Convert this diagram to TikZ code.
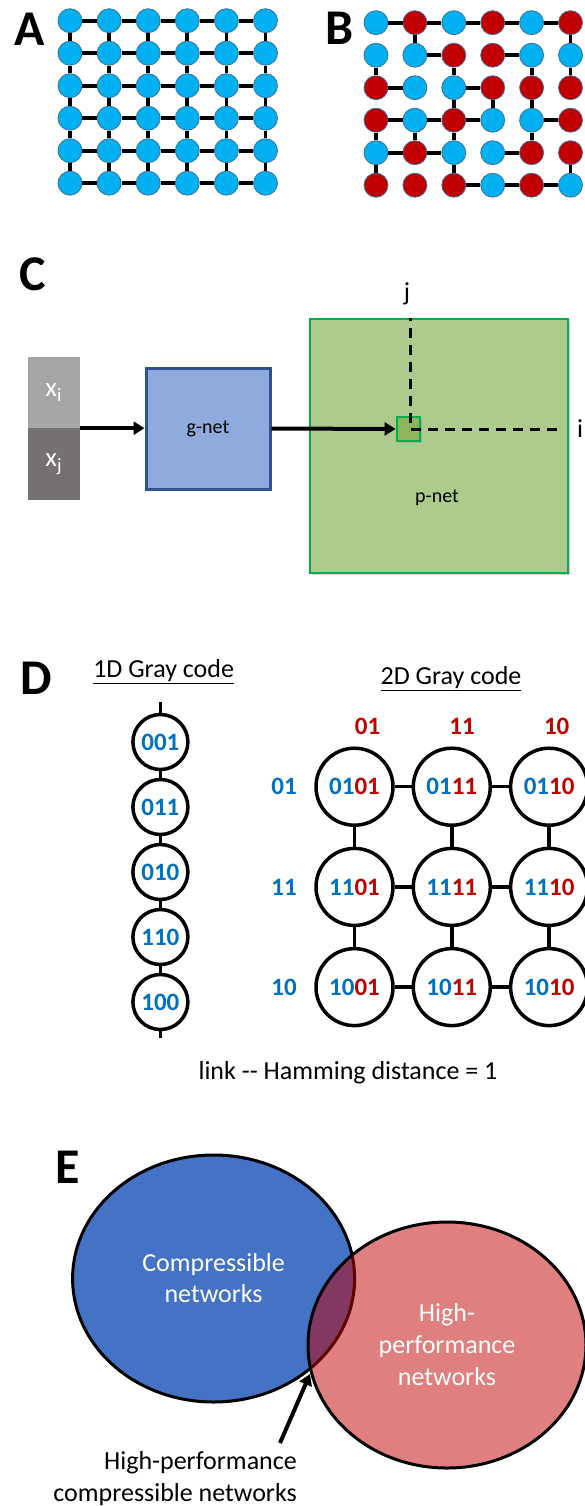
\documentclass[tikz,border=0pt]{standalone}
\usepackage{fontspec}
\setmainfont{Carlito}
\usetikzlibrary{positioning, arrows.meta, shadows, shapes.geometric}
\definecolor{cyanA}{HTML}{00B0F0}
\definecolor{redB}{HTML}{C00000}
\definecolor{rimB}{HTML}{41719C}
\definecolor{codeblue}{HTML}{0070C0}
\definecolor{codered}{HTML}{C00000}
\definecolor{gfill}{HTML}{8FAADC}
\definecolor{gline}{HTML}{2F528F}
\definecolor{pfill}{HTML}{ADCB8D}
\definecolor{pline}{HTML}{00B050}
\definecolor{cfill}{HTML}{8FB65A}
\definecolor{xifill}{HTML}{A6A6A6}
\definecolor{xjfill}{HTML}{767171}
\definecolor{vennblue}{HTML}{4472C4}
\newcommand{\fsz}[1]{\fontsize{#1}{#1}\selectfont}
\newcommand{\gcode}[2]{\textcolor{codeblue}{#1}\textcolor{codered}{#2}}

\begin{document}
\begin{tikzpicture}[x=1pt,y=-1pt,node distance=65pt,on grid,
  spin/.style={circle, draw=rimB, line width=0.8pt, minimum size=24pt, inner sep=0pt, fill=cyanA},
  bond/.style={line width=3.8pt},
  panel/.style={font=\fsz{50}\bfseries, inner sep=0pt},
  gc/.style={circle, draw, line width=3.5pt, inner sep=0pt, font=\fsz{25}\bfseries, text=codeblue},
  gc1/.style={gc, minimum size=55pt},
  gc2/.style={gc, minimum size=77pt},
  head/.style={font=\fsz{26}, inner sep=0pt},
  thick arrow/.style={-{Triangle[length=11pt,width=13pt]}, line width=4pt},
  shade/.style={drop shadow={shadow xshift=2pt, shadow yshift=-2pt, opacity=0.35}}]
  \useasboundingbox (0,0) rectangle (585,1506);

  % A and B
  \node[panel] (labA) at (30,29) {A};
  \node[panel] (labB) at (340,28) {B};
  \foreach \r in {1,...,6}
    \foreach \c in {1,...,6}
      \node[spin] (a\r\c) at ({70+39.1*(\c-1)}, {20.7+32.5*(\r-1)}) {};
  \foreach \r in {1,...,6}
    \foreach \c in {1,...,5} {
      \pgfmathtruncatemacro\d{\c+1}
      \draw[bond] (a\r\c) -- (a\r\d);
      \draw[bond] (a\c\r) -- (a\d\r);
    }
  \foreach \row [count=\r] in {{0,1,0,1,0,1},{0,0,1,1,0,0},{1,0,0,1,1,1},{1,0,1,0,0,1},{0,1,0,0,1,1},{1,1,1,0,1,0}}
    \foreach \s [count=\c] in \row {
      \ifnum\s=1 \def\spincol{redB}\else\def\spincol{cyanA}\fi
      \node[spin, fill=\spincol] (b\r\c) at ({376+38.9*(\c-1)}, {22.7+32.5*(\r-1)}) {};
    }
  \foreach \r/\c/\d in {1/1/2,1/2/3,1/3/4,1/4/5,1/5/6,2/2/3,2/4/5,3/1/2,3/3/4,4/1/2,4/2/3,4/3/4,4/5/6,5/1/2,5/2/3,5/4/5,6/3/4,6/4/5,6/5/6}
    \draw[bond] (b\r\c) -- (b\r\d);
  \foreach \r/\s/\c in {1/2/2,1/2/6,2/3/1,2/3/3,2/3/5,2/3/6,3/4/3,3/4/4,3/4/5,4/5/1,4/5/2,4/5/3,4/5/5,5/6/1,5/6/3,5/6/6}
    \draw[bond] (b\r\c) -- (b\s\c);

  % C
  \node[panel] (labC) at (33,274) {C};
  \node[fill=xifill, minimum width=51.5pt, minimum height=71pt, inner sep=0pt, text=white, font=\fsz{27}] (xi) at (53.75,392.5) {x\textsubscript{i}};
  \node[fill=xjfill, minimum width=51.5pt, minimum height=72pt, inner sep=0pt, text=white, font=\fsz{27}] (xj) at (53.75,464) {x\textsubscript{j}};
  \node[draw=gline, fill=gfill, line width=3pt, minimum width=124pt, minimum height=121pt, font=\fsz{20}, shade] (gnet) at (208,428.5) {g-net};
  \node[draw=pline, fill=pfill, line width=2.8pt, minimum width=258pt, minimum height=254pt, shade] (pnet) at (439,446) {};
  \node[font=\fsz{20}] (plab) at (437,498) {p-net};
  \node[draw=pline, fill=cfill, line width=2.8pt, minimum width=23pt, minimum height=24pt, inner sep=0pt, shade] (cell) at (408.5,429) {};
  \draw[line width=3pt, dash pattern=on 10pt off 7pt] ([xshift=2pt]cell.center) ++(0,-6) -- ([xshift=2pt]cell.center |- pnet.north);
  \draw[line width=3pt, dash pattern=on 10pt off 7pt] ([xshift=2pt]cell.center) -- ([xshift=-6pt]pnet.east |- cell.center);
  \node[head] (jlab) at (407,294) {j};
  \node[head] (ilab) at (580,429) {i};
  \draw[thick arrow] (xi.south east) -- (xi.south east -| gnet.west);
  \draw[thick arrow] (gnet.east) -- (cell.west);

  % D
  \node[panel] (labD) at (36,678) {D};
  \node[head] (t1d) at (163.6,672) {\underline{1D Gray code}};
  \node[head] (t2d) at (451,679) {\underline{2D Gray code}};
  \node[gc1] (d1) at (160.4,742) {001};
  \node[gc1] (d2) [below=of d1] {011};
  \node[gc1] (d3) [below=of d2] {010};
  \node[gc1] (d4) [below=of d3] {110};
  \node[gc1] (d5) [below=of d4] {100};
  \coordinate (dtop) at (160.4,702);
  \coordinate (dbot) at (160.4,1038);
  \draw[line width=3pt] (dtop) -- (d1) -- (d2) -- (d3) -- (d4) -- (d5) -- (dbot);
  \foreach \rb [count=\i] in {01,11,10} {
    \node[font=\fsz{25}\bfseries, text=codeblue] (rl\i) at (284,{786.7+100.2*(\i-1)}) {\rb};
    \node[font=\fsz{25}\bfseries, text=codered] (cl\i) at ({367.5+94.6*(\i-1)},726) {\rb};
    \foreach \cb [count=\j] in {01,11,10}
      \node[gc2] (e\i\j) at ({354.5+97.3*(\j-1)},{786.7+100.2*(\i-1)}) {\gcode{\rb}{\cb}};
  }
  \foreach \i in {1,2,3}
    \foreach \j/\k in {1/2,2/3} {
      \draw[line width=3.5pt] (e\i\j) -- (e\i\k);
      \draw[line width=3.5pt] (e\j\i) -- (e\k\i);
    }
  \node[head] (hamming) at (348,1073) {link -{}- Hamming distance = 1};

  % E
  \node[panel] (labE) at (68,1167) {E};
  \node[ellipse, draw, line width=3pt, fill=vennblue, minimum width=282pt, minimum height=247pt, text=white, align=center, font=\fontsize{26}{31}\selectfont] (comp) at (213.6,1278.5) {Compressible\\networks};
  \node[ellipse, draw, line width=3pt, fill=redB, fill opacity=0.5, text opacity=1, minimum width=278pt, minimum height=246pt, text=white, align=center, font=\fontsize{26}{32}\selectfont] (perf) at (447,1345) {High-\\performance\\networks};
  \node[align=right, anchor=east, inner sep=0pt, font=\fontsize{26}{32}\selectfont] (both) at (297,1479) {High-performance\\compressible networks};
  \coordinate (meet) at (310,1374);
  \coordinate (tail) at (280,1443);
  \draw[thick arrow] (tail) -- (meet);
\end{tikzpicture}
\end{document}
